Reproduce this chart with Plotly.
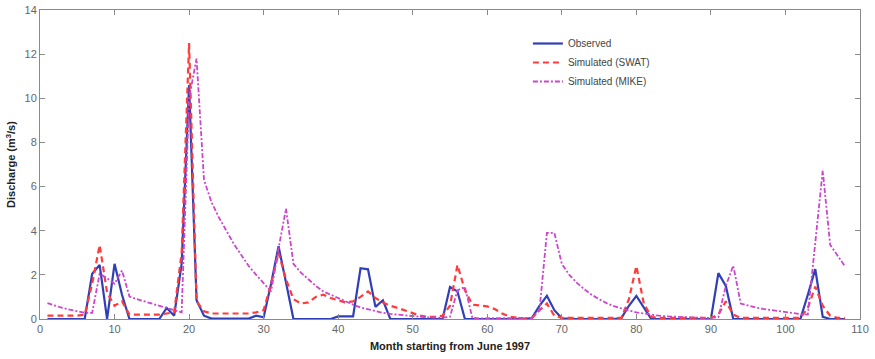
import plotly.graph_objects as go

months = list(range(1, 109))

observed = [
    0, 0, 0, 0, 0, 0, 2.05, 2.45, 0, 2.5,
    1.1, 0, 0, 0, 0, 0, 0.5, 0.15, 2.5, 10.6,
    0.85, 0.15, 0.02, 0.02, 0.05, 0.02, 0.02, 0.02, 0.15, 0.08,
    1.6, 3.3, 1.65, 0, 0, 0, 0, 0, 0, 0.12,
    0.12, 0.12, 2.3, 2.25, 0.55, 0.85, 0, 0, 0, 0,
    0, 0, 0, 0, 1.45, 1.25, 0, 0, 0, 0,
    0, 0, 0, 0, 0, 0.05, 0.6, 1.05, 0.4, 0.03,
    0, 0, 0, 0, 0, 0, 0, 0.05, 0.6, 1.05,
    0.5, 0, 0, 0, 0, 0, 0, 0, 0, 0,
    2.08, 1.5, 0, 0, 0, 0, 0, 0, 0, 0,
    0, 0, 1.1, 2.26, 0.1, 0, 0, 0,
]

swat = [
    0.15, 0.15, 0.15, 0.15, 0.15, 0.2, 1.6, 3.35, 1.2, 0.6,
    0.8, 0.2, 0.2, 0.2, 0.2, 0.2, 0.25, 0.3, 3.0, 12.5,
    0.8, 0.35, 0.25, 0.25, 0.25, 0.25, 0.25, 0.25, 0.3, 0.4,
    1.6, 3.0, 1.8, 0.9, 0.7, 0.75, 1.0, 1.1, 0.95, 0.85,
    0.75, 0.8, 1.0, 1.25, 0.95, 0.75, 0.6, 0.5, 0.38, 0.25,
    0.15, 0.1, 0.1, 0.15, 0.6, 2.45, 1.3, 0.65, 0.6, 0.57,
    0.45, 0.25, 0.1, 0.05, 0.02, 0.05, 0.4, 0.7, 0.15, 0.05,
    0.05, 0.05, 0.05, 0.05, 0.05, 0.05, 0.05, 0.05, 0.9, 2.4,
    0.7, 0.1, 0.05, 0.05, 0.05, 0.05, 0.05, 0.05, 0.05, 0.05,
    0.2, 0.8, 0.2, 0.05, 0.05, 0.05, 0.05, 0.05, 0.05, 0.05,
    0.05, 0.05, 0.5, 1.47, 0.6, 0.15, 0.05, 0.05,
]

mike = [
    0.72, 0.6, 0.5, 0.42, 0.35, 0.28, 0.28, 2.05, 1.85, 1.6,
    2.2, 1.02, 0.9, 0.8, 0.68, 0.57, 0.48, 0.38, 0.3, 10.0,
    11.8, 6.3, 5.3, 4.6, 4.0, 3.4, 2.9, 2.4, 2.0, 1.6,
    1.25, 3.2, 5.0, 2.5, 2.1, 1.8, 1.5, 1.25, 1.1, 0.95,
    0.78, 0.65, 0.52, 0.43, 0.35, 0.28, 0.23, 0.19, 0.15, 0.12,
    0.1, 0.08, 0.07, 0.06, 0.1, 1.3, 1.45, 0.05, 0.03, 0.03,
    0.03, 0.03, 0.03, 0.03, 0.03, 0.05, 0.4, 3.9, 3.9, 2.5,
    2.0, 1.65, 1.35, 1.1, 0.9, 0.72, 0.58, 0.47, 0.38, 0.3,
    0.24, 0.2, 0.15, 0.12, 0.1, 0.08, 0.06, 0.05, 0.05, 0.05,
    0.08, 1.5, 2.42, 0.7, 0.6, 0.52, 0.46, 0.41, 0.36, 0.31,
    0.27, 0.22, 0.2, 3.4, 6.72, 3.36, 2.85, 2.38,
]

x_ticks = list(range(0, 111, 10))
y_ticks = list(range(0, 15, 2))

fig = go.Figure()
fig.add_trace(go.Scatter(x=months, y=observed, mode="lines", name="Observed",
                         line=dict(color="#2f3fb8", width=2.2)))
fig.add_trace(go.Scatter(x=months, y=swat, mode="lines", name="Simulated (SWAT)",
                         line=dict(color="#ff3b3b", width=2.2, dash="6px,4px")))
fig.add_trace(go.Scatter(x=months, y=mike, mode="lines", name="Simulated (MIKE)",
                         line=dict(color="#cc45cc", width=1.8, dash="5px,2px,2px,2px")))

axis_common = dict(
    showline=True, linecolor="#8a8a8a", linewidth=1, mirror="ticks",
    ticks="inside", ticklen=5, tickcolor="#8a8a8a",
    showgrid=False, zeroline=False, automargin=False,
    tickfont=dict(family="Liberation Sans, Arial, sans-serif", size=11, color="#666666"),
)

fig.update_layout(
    width=875, height=359,
    margin=dict(l=40, r=15, t=10, b=40),
    paper_bgcolor="white", plot_bgcolor="white",
    font=dict(family="Liberation Sans, Arial, sans-serif"),
    showlegend=True,
    legend=dict(x=0.595, y=0.9385, xanchor="left", yanchor="top",
                bgcolor="rgba(255,255,255,0)", borderwidth=0,
                font=dict(size=10, color="#444444"),
                tracegroupgap=0, itemwidth=30),
    xaxis=dict(range=[0, 110], tickvals=x_ticks,
               title=dict(text="<b>Month starting from June 1997</b>",
                          font=dict(size=11, color="#222222"), standoff=8),
               **axis_common),
    yaxis=dict(range=[0, 14], tickvals=y_ticks,
               title=dict(text="<b>Discharge (m<sup>3</sup>/s)</b>",
                          font=dict(size=11, color="#222222"), standoff=6),
               **axis_common),
)

fig.write_html("out.html")
